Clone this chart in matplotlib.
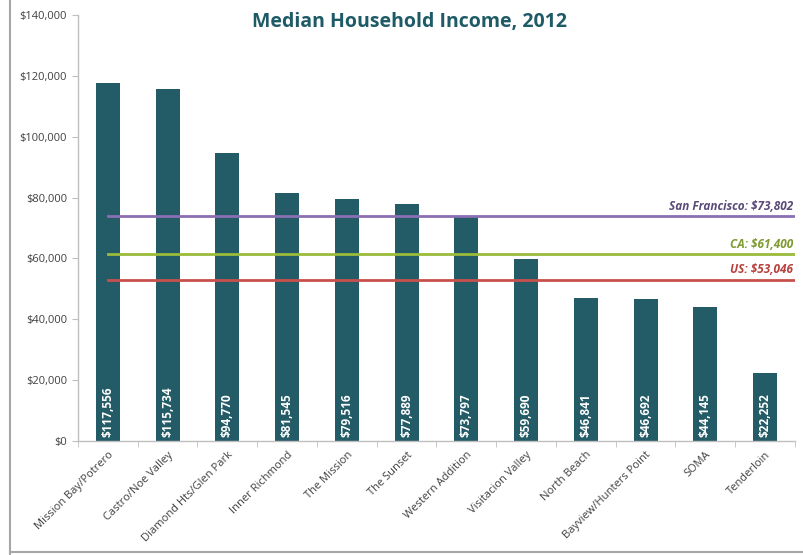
import matplotlib
matplotlib.use("Agg")
import matplotlib.pyplot as plt
from matplotlib.lines import Line2D

categories = ["Mission Bay/Potrero", "Castro/Noe Valley", "Diamond Hts/Glen Park",
              "Inner Richmond", "The Mission", "The Sunset", "Western Addition",
              "Visitacion Valley", "North Beach", "Bayview/Hunters Point", "SOMA",
              "Tenderloin"]
incomes = [117556, 115734, 94770, 81545, 79516, 77889, 73797, 59690, 46841, 46692, 44145, 22252]
ref_names = ["San Francisco", "CA", "US"]
ref_values = [73802, 61400, 53046]
ref_colors = ["#8b6fb3", "#9bbb3b", "#c8504d"]
ref_text_colors = ["#5a4a78", "#7f9a30", "#b8403d"]
yticks = list(range(0, 140001, 20000))

plt.rcParams['font.family'] = ['Open Sans', 'DejaVu Sans']

fig = plt.figure(figsize=(8.04, 5.55), dpi=100)
ax = fig.add_axes([78/804, 1-441/555, (795-78)/804, (441-15)/555])

x = list(range(len(categories)))
ax.bar(x, incomes, width=0.4, color="#235b66", zorder=2)

for xi, v in zip(x, incomes):
    ax.annotate(f"${v:,}", (xi, 0), xytext=(0, 3), textcoords="offset points",
                rotation=90, ha="center", va="bottom", color="white",
                fontsize=8.5, fontweight="bold", zorder=4)

for name, val, c, tc in zip(ref_names, ref_values, ref_colors, ref_text_colors):
    ax.plot([0, len(categories) - 0.5], [val, val], color=c, lw=2, zorder=3)
    ax.text(len(categories) - 0.53, val + 1200, f"{name}: ${val:,}", ha="right", va="bottom",
            color=tc, fontsize=8.5, fontweight="bold", style="italic")

ax.set_xlim(-0.5, len(categories) - 0.5)
ax.set_ylim(0, 140000)
ax.set_yticks(yticks)
ax.set_yticklabels([f"${t:,}" for t in yticks], fontsize=8, color="#404040")
ax.set_xticks(x)
ax.set_xticklabels(categories, rotation=45, ha="right", rotation_mode="anchor",
                   fontsize=8, color="#404040")
ax.tick_params(axis="x", length=0, pad=6)
ax.set_xticks([i - 0.5 for i in range(len(categories) + 1)], minor=True)
ax.tick_params(axis="x", which="minor", length=4, color="#bfbfbf")
ax.tick_params(axis="y", length=4, color="#bfbfbf", pad=4)
for s in ["top", "right"]:
    ax.spines[s].set_visible(False)
for s in ["left", "bottom"]:
    ax.spines[s].set_color("#bfbfbf")
    ax.spines[s].set_linewidth(1)

fig.text(410/804, 1-22/555, "Median Household Income, 2012", ha="center", va="center",
         fontsize=14, fontweight="bold", color="#1f5b66")

fig.add_artist(Line2D([10/804, 10/804], [0, 1], color="#a6a6a6", lw=1.5))
fig.add_artist(Line2D([10/804, 1], [3/555, 3/555], color="#a6a6a6", lw=1.5))

fig.savefig("out.png", dpi=100)
